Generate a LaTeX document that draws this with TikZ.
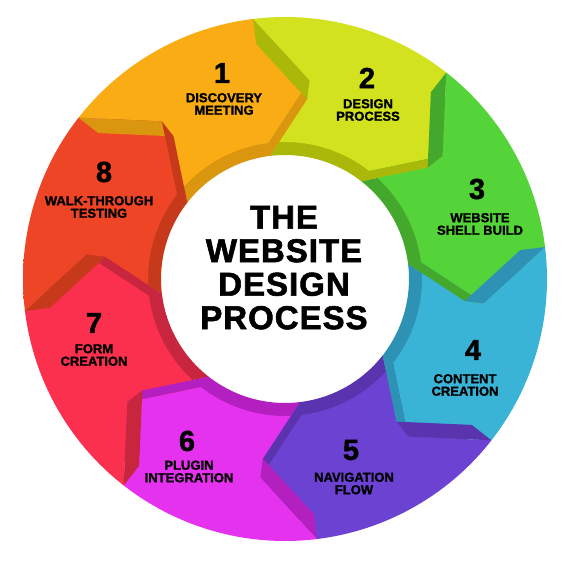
\documentclass[tikz,border=0pt]{standalone}
\usepackage{fontspec}
\setmainfont{Liberation Sans}[BoldFeatures={FakeBold=1.5}]
\newfontfamily\headfont{Liberation Sans}[LetterSpace=3, BoldFeatures={FakeBold=1.8}]

\definecolor{discovery}{HTML}{F9AC14}
\definecolor{discoverydark}{HTML}{D9960E}
\definecolor{design}{HTML}{D2E21E}
\definecolor{designdark}{HTML}{AAB80A}
\definecolor{shell}{HTML}{55D43A}
\definecolor{shelldark}{HTML}{44A82C}
\definecolor{content}{HTML}{3AB4D6}
\definecolor{contentdark}{HTML}{2D92B3}
\definecolor{navigation}{HTML}{6C42D2}
\definecolor{navigationdark}{HTML}{5A34AF}
\definecolor{plugin}{HTML}{E432EE}
\definecolor{plugindark}{HTML}{B41FBF}
\definecolor{form}{HTML}{FB2F4E}
\definecolor{formdark}{HTML}{C8263E}
\definecolor{walk}{HTML}{EE4526}
\definecolor{walkdark}{HTML}{C63A1B}
\colorlet{ringin}{black}
\colorlet{ringout}{white}
\pgfdeclareradialshading[ringin,ringout]{ringshade}{\pgfpoint{0bp}{0bp}}%
  {color(0bp)=(ringin); color(30bp)=(ringin); color(50bp)=(ringout)}

% start angle / face colour / side colour, clockwise
\def\segmentlist{142/discovery/discoverydark, 97/design/designdark,
  52/shell/shelldark, 7/content/contentdark, -38/navigation/navigationdark,
  -83/plugin/plugindark, -128/form/formdark, -173/walk/walkdark}

\begin{document}
\begin{tikzpicture}[x=1pt,y=1pt,
    num/.style={font=\fontsize{29}{29}\selectfont\bfseries, inner sep=0pt},
    lbl/.style={font=\fontsize{13}{12.5}\selectfont\bfseries, align=center, inner sep=0pt},
    heading/.style={font=\fontsize{33}{33.5}\selectfont\headfont\bfseries, align=center, inner sep=0pt}]
  \useasboundingbox (0,0) rectangle (566,565);
  \coordinate (ctr) at (285,286);
  \begin{scope}[shift={(ctr)}]
    % depth of the ring
    \foreach \angS/\fc/\dc in \segmentlist {
      \pgfmathsetmacro{\angE}{\angS-45}
      \fill[\dc, scale=0.905] (\angS:262) arc[start angle=\angS, end angle=\angE, radius=262]
        -- (\angE-14:200) -- (\angE:137) arc[start angle=\angE, end angle=\angS, radius=137]
        -- (\angS-14:200) -- cycle;
    }
    % arrow faces, lighter to the outside
    \foreach \angS/\fc/\dc in \segmentlist {
      \pgfmathsetmacro{\angE}{\angS-45}
      \colorlet{ringin}{\fc}
      \colorlet{ringout}{\fc!72!white}
      \begin{scope}
        \clip (\angS:262) arc[start angle=\angS, end angle=\angE, radius=262]
          -- (\angE-14:200) -- (\angE:137) arc[start angle=\angE, end angle=\angS, radius=137]
          -- (\angS-14:200) -- cycle;
        \shade[shading=ringshade] (0,0) circle[radius=262];
      \end{scope}
    }
    % sides of tips and notches
    \foreach \angS/\fc/\dc in \segmentlist {
      \pgfmathsetmacro{\angE}{\angS-45}
      \fill[\dc] (\angE-14:200) -- (\angE:137) -- (\angE:124) -- (\angE-14:181) -- cycle;
      \fill[\dc] (\angS:262) -- (\angS-14:200) -- (\angS-14:181) -- (\angS:237) -- cycle;
    }
  \end{scope}

  \node[heading] (heading) at (284,297.3) {THE\\WEBSITE\\DESIGN\\PROCESS};

  \node[num] (n1) at (222,492) {1};
  \node[lbl] (l1) at (224,461) {DISCOVERY\\MEETING};
  \node[num] (n2) at (367,487) {2};
  \node[lbl] (l2) at (368,455) {DESIGN\\PROCESS};
  \node[num] (n3) at (477,376) {3};
  \node[lbl] (l3) at (480,341) {WEBSITE\\SHELL BUILD};
  \node[num] (n4) at (473,215) {4};
  \node[lbl] (l4) at (465,180) {CONTENT\\CREATION};
  \node[num] (n5) at (351,115) {5};
  \node[lbl] (l5) at (354,81.5) {NAVIGATION\\FLOW};
  \node[num] (n6) at (187,124) {6};
  \node[lbl] (l6) at (189,93.5) {PLUGIN\\INTEGRATION};
  \node[num] (n7) at (94,242) {7};
  \node[lbl] (l7) at (94,210) {FORM\\CREATION};
  \node[num] (n8) at (104,393) {8};
  \node[lbl] (l8) at (99,358) {WALK-THROUGH\\TESTING};
\end{tikzpicture}
\end{document}
